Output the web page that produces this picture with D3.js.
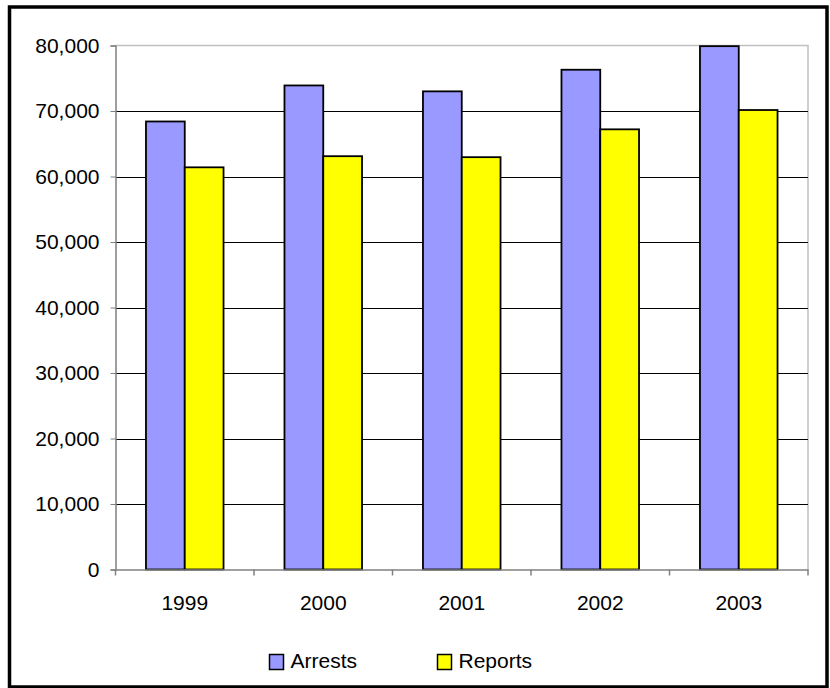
<!DOCTYPE html>
<html>
<head>
<meta charset="utf-8">
<script src="https://cdn.jsdelivr.net/npm/d3@7"></script>
<style>
  html, body { margin: 0; padding: 0; background: #fff; }
  svg { display: block; font-family: "Liberation Sans", Arial, sans-serif; }
</style>
</head>
<body>
<svg id="chart" width="830" height="688"></svg>
<script>
const years = ["1999", "2000", "2001", "2002", "2003"];
const seriesNames = ["Arrests", "Reports"];
const arrests = [68400, 73900, 73000, 76300, 79900];
const reports = [61400, 63100, 62950, 67200, 70150];
const yTicks = [0, 10000, 20000, 30000, 40000, 50000, 60000, 70000, 80000];
const colors = ["#9999FF", "#FFFF00"];

const svg = d3.select("#chart");
const plotLeft = 115.5, plotRight = 808, plotTop = 45.5, plotBottom = 569.5;

const x = d3.scaleBand().domain(years).range([plotLeft, plotRight]).padding(0);
const xs = d3.scaleBand().domain(seriesNames)
  .range([x.bandwidth() * 0.22, x.bandwidth() * 0.78]).padding(0);
const y = d3.scaleLinear().domain([0, 80000]).range([plotBottom, plotTop]);
const color = d3.scaleOrdinal().domain(seriesNames).range(colors);

// outer frame
svg.append("rect")
  .attr("x", 9.5).attr("y", 7).attr("width", 817.5).attr("height", 680)
  .attr("fill", "none").attr("stroke", "#000").attr("stroke-width", 3.5);

// plot border (top/right light gray)
svg.append("path")
  .attr("d", `M${plotLeft},${plotTop}H${plotRight}V${plotBottom}`)
  .attr("fill", "none").attr("stroke", "#c0c0c0").attr("stroke-width", 1.5);

// gridlines
svg.append("g").selectAll("line")
  .data(yTicks.filter(d => d > 0 && d < 80000))
  .join("line")
  .attr("x1", plotLeft).attr("x2", plotRight)
  .attr("y1", d => Math.round(y(d)) + 0.5).attr("y2", d => Math.round(y(d)) + 0.5)
  .attr("stroke", "#000").attr("stroke-width", 1);

// bars
const data = years.map((yr, i) => ({ year: yr, values: [
  { key: "Arrests", value: arrests[i] },
  { key: "Reports", value: reports[i] }
]}));

const groups = svg.append("g").selectAll("g")
  .data(data).join("g")
  .attr("transform", d => `translate(${x(d.year)},0)`);

groups.selectAll("rect")
  .data(d => d.values).join("rect")
  .attr("x", d => xs(d.key))
  .attr("width", xs.bandwidth())
  .attr("y", d => y(d.value))
  .attr("height", d => y(0) - y(d.value))
  .attr("fill", d => color(d.key))
  .attr("stroke", "#000").attr("stroke-width", 1.8);

// y axis
const yAxis = d3.axisLeft(y).tickValues(yTicks)
  .tickFormat(d3.format(",")).tickSize(5).tickPadding(11);
const gy = svg.append("g").attr("transform", `translate(${plotLeft},0)`).call(yAxis);
gy.select(".domain").attr("stroke", "#808080").attr("stroke-width", 1.5);
gy.selectAll(".tick line").attr("stroke", "#808080");
gy.selectAll("text").attr("font-size", 21).attr("fill", "#000")
  .attr("font-family", "Liberation Sans, Arial, sans-serif");

// x axis
const xAxis = d3.axisBottom(x).tickSize(0).tickPadding(26);
const gx = svg.append("g").attr("transform", `translate(0,${plotBottom})`).call(xAxis);
gx.select(".domain").attr("stroke", "#808080").attr("stroke-width", 1.5);
gx.selectAll("text").attr("font-size", 21).attr("fill", "#000")
  .attr("font-family", "Liberation Sans, Arial, sans-serif");
// category boundary ticks
const bounds = years.map(d => x(d)).concat([plotRight]);
gx.selectAll(".bound").data(bounds).join("line").attr("class", "bound")
  .attr("x1", d => d).attr("x2", d => d).attr("y1", 0).attr("y2", 6)
  .attr("stroke", "#808080").attr("stroke-width", 1.5);

// legend
const legendX = [269.5, 437.5];
const leg = svg.append("g").selectAll("g")
  .data(seriesNames).join("g")
  .attr("transform", (d, i) => `translate(${legendX[i]},654.5)`);
leg.append("rect").attr("width", 14).attr("height", 15)
  .attr("fill", d => color(d)).attr("stroke", "#000").attr("stroke-width", 1.5);
leg.append("text").attr("x", 21).attr("y", 13)
  .attr("font-size", 21).attr("fill", "#000").text(d => d);
</script>
</body>
</html>
